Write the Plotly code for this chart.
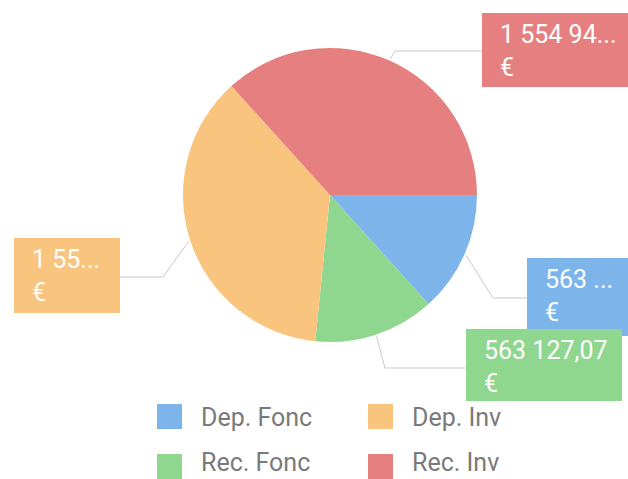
import math
import plotly.graph_objects as go

# ---- data ----
categories = ["Dep. Fonc", "Rec. Fonc", "Dep. Inv", "Rec. Inv"]
values = [563284.51, 563127.07, 1553862.30, 1554940.18]
colors = ["#7db5ea", "#8fd68f", "#f8c47e", "#e68080"]
label_chars = [4, None, 4, 8]          # characters shown before truncation
legend_order = ["Dep. Fonc", "Dep. Inv", "Rec. Fonc", "Rec. Inv"]

W, H = 628, 479
CX, CY, R = 330, 195, 147


def fmt(v):
    s = f"{v:,.2f}".replace(",", " ").replace(".", ",")
    return s


def px(x):
    return x / W


def py(y):
    return 1 - y / H


def truncated(v, n):
    s = fmt(v)
    if n is None or n >= len(s):
        return s
    return s[:n] + "..."


fig = go.Figure()
fig.add_trace(go.Pie(
    labels=categories, values=values, sort=False, direction="clockwise",
    rotation=90, textinfo="none", showlegend=False,
    marker=dict(colors=colors, line=dict(width=0)),
    domain=dict(x=[px(CX - R), px(CX + R)], y=[py(CY + R), py(CY - R)]),
))

# label boxes layout (pixel): box left, top, right, bottom, bend point, box attach x
label_layout = {
    "Rec. Inv": dict(box=(482, 13, 650, 87), bend=(395, 51), attach=482),
    "Dep. Fonc": dict(box=(527, 258, 650, 336), bend=(493, 298), attach=527),
    "Rec. Fonc": dict(box=(466, 329, 622, 401), bend=(385, 368), attach=466),
    "Dep. Inv": dict(box=(14, 238, 120, 313), bend=(163, 277), attach=120),
}

total = sum(values)
shapes = []
annotations = []
cum = 0.0
mids = {}
for c, v in zip(categories, values):
    mid = (cum + v / 2) / total * 2 * math.pi
    mids[c] = mid
    cum += v

draw_order = ["Rec. Inv", "Dep. Inv", "Dep. Fonc", "Rec. Fonc"]
for c in draw_order:
    lay = label_layout[c]
    mid = mids[c]
    sx = CX + (R + 2) * math.cos(mid)
    sy = CY + (R + 2) * math.sin(mid)
    bx, by = lay["bend"]
    ax = lay["attach"]
    shapes.append(dict(
        type="path", xref="paper", yref="paper", layer="above",
        path=f"M {px(sx)} {py(sy)} L {px(bx)} {py(by)} L {px(ax)} {py(by)}",
        line=dict(color="#c9c9c9", width=1),
    ))
for c in draw_order:
    i = categories.index(c)
    lay = label_layout[c]
    x0, y0, x1, y1 = lay["box"]
    shapes.append(dict(
        type="rect", xref="paper", yref="paper", layer="above",
        x0=px(x0), x1=px(x1), y0=py(y1), y1=py(y0),
        fillcolor=colors[i], line=dict(width=0),
    ))
    annotations.append(dict(
        xref="paper", yref="paper", x=px(x0 + 16), y=py(y0 + 5),
        xanchor="left", yanchor="top", align="left", showarrow=False,
        text=truncated(values[i], label_chars[i]) + "<br>€",
        font=dict(family="Roboto", size=25, color="white"),
    ))

# legend (2 columns)
col_x = [157, 368]
row_y = [404, 454]
sq = 25
for k, c in enumerate(legend_order):
    i = categories.index(c)
    x0 = col_x[k % 2]
    y0 = row_y[k // 2]
    shapes.append(dict(
        type="rect", xref="paper", yref="paper",
        x0=px(x0), x1=px(x0 + sq), y0=py(y0 + sq), y1=py(y0),
        fillcolor=colors[i], line=dict(width=0),
    ))
    ty = min(y0 + sq / 2 + 17, H)
    annotations.append(dict(
        xref="paper", yref="paper", x=px(x0 + sq + 17), y=py(ty),
        xanchor="left", yanchor="bottom", showarrow=False, text=c,
        font=dict(family="Roboto", size=25, color="#7a7a7a"),
    ))

fig.update_layout(
    width=W, height=H, margin=dict(l=0, r=0, t=0, b=0),
    paper_bgcolor="white", plot_bgcolor="white",
    shapes=shapes, annotations=annotations, showlegend=False,
)
fig.write_html("out.html")
